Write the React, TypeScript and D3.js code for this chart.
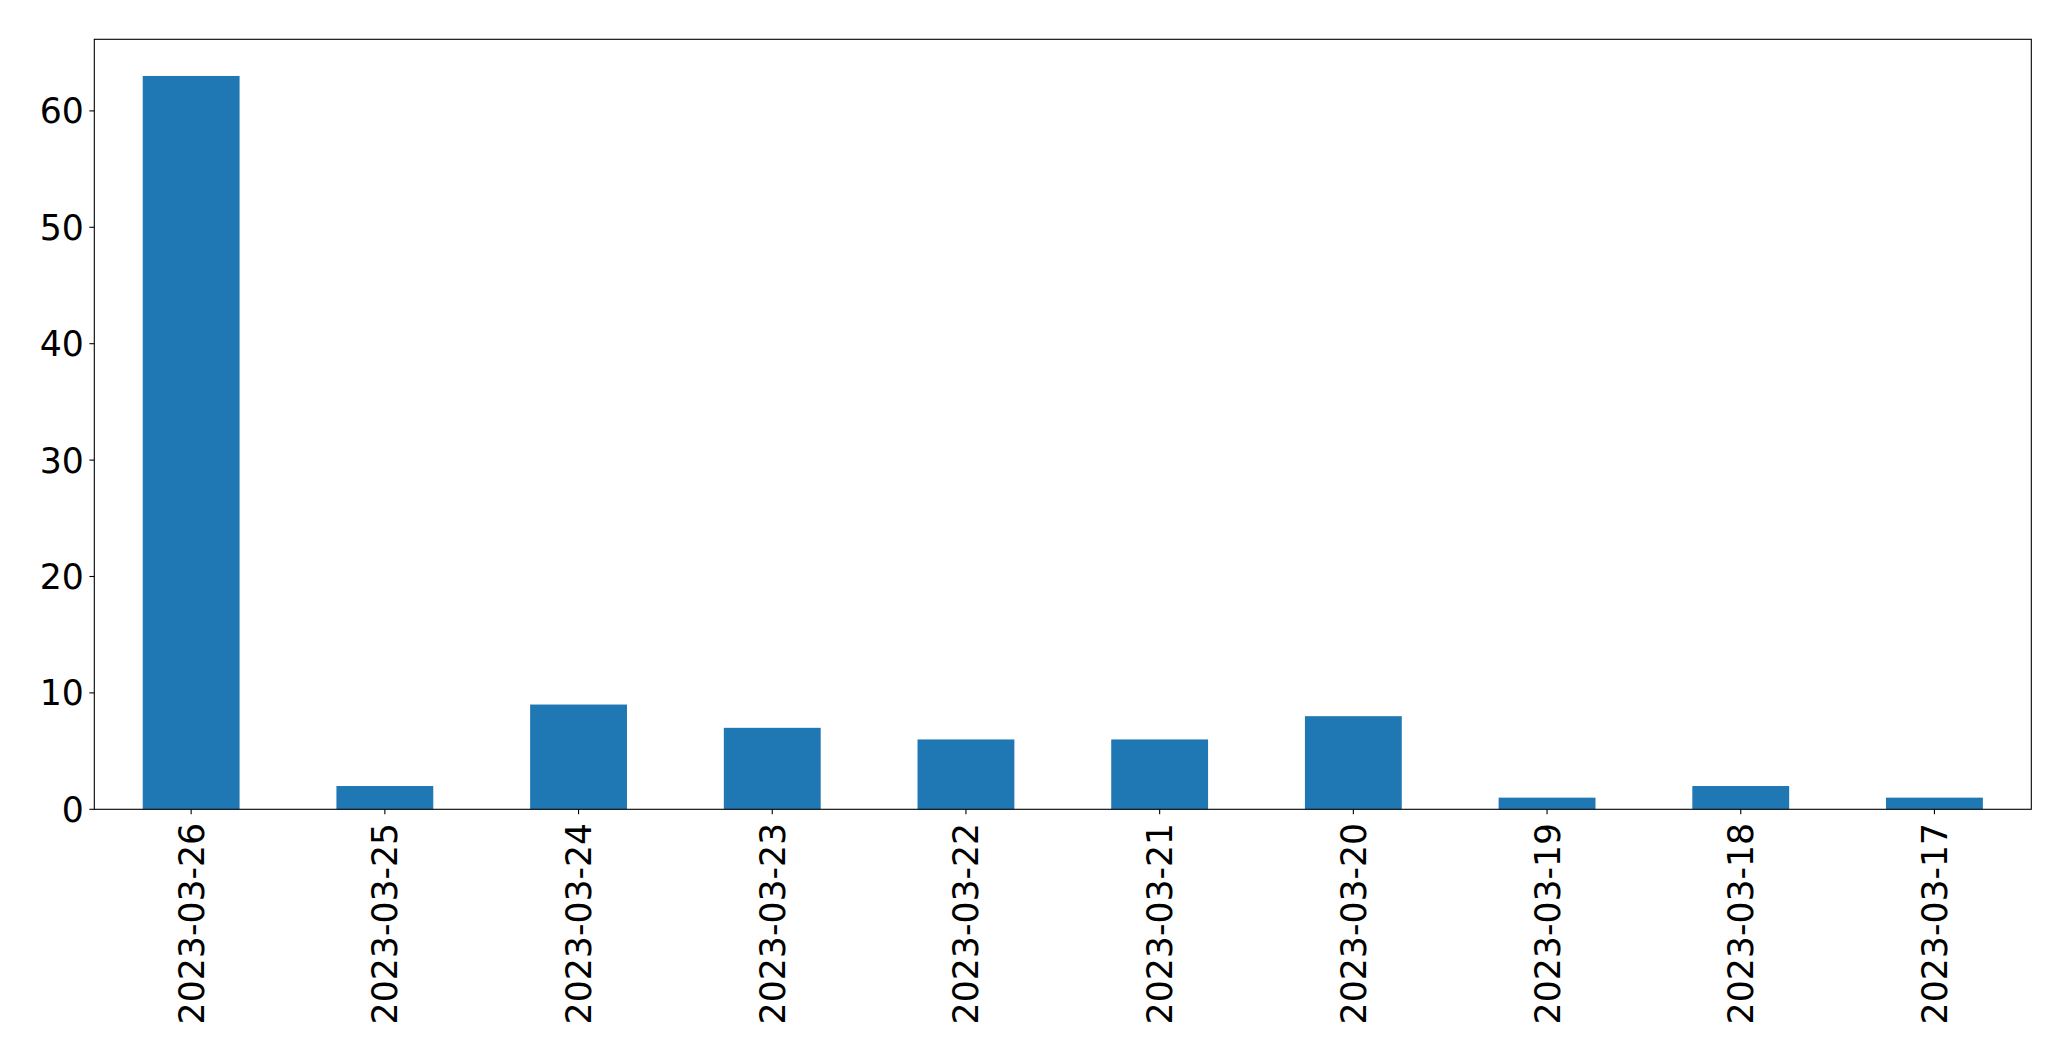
import React from "react";
import * as d3 from "d3";

const categories = ["2023-03-26","2023-03-25","2023-03-24","2023-03-23","2023-03-22","2023-03-21","2023-03-20","2023-03-19","2023-03-18","2023-03-17"];
const values = [63, 2, 9, 7, 6, 6, 8, 1, 2, 1];
const yTicks = [0, 10, 20, 30, 40, 50, 60];

const W = 2071, H = 1061;
const M = { left: 94.3, right: 2031.3, top: 39.3, bottom: 809.3 };
const FONT = "DejaVu Sans, sans-serif";
const FS = 34.7;

export default function App() {
  const x = d3.scaleBand<string>().domain(categories).range([M.left, M.right]).paddingInner(0.5).paddingOuter(0.25);
  const y = d3.scaleLinear().domain([0, 63 * 1.05]).range([M.bottom, M.top]);
  return (
    <svg width={W} height={H} style={{ position: "absolute", left: 0, top: 0 }}>
      <rect width={W} height={H} fill="#fff" />
      {categories.map((c, i) => (
        <rect key={c} x={x(c)} y={y(values[i])} width={x.bandwidth()} height={y(0) - y(values[i])} fill="#1f77b4" />
      ))}
      <rect x={M.left} y={M.top} width={M.right - M.left} height={M.bottom - M.top} fill="none" stroke="#000" strokeWidth={1.1} />
      {yTicks.map(t => (
        <g key={t}>
          <line x1={M.left - 4.9} x2={M.left} y1={y(t)} y2={y(t)} stroke="#000" strokeWidth={1.1} />
          <text x={M.left - 10.5} y={y(t)} dy="0.36em" textAnchor="end" fontFamily={FONT} fontSize={FS}>{t}</text>
        </g>
      ))}
      {categories.map(c => {
        const cx = (x(c) as number) + x.bandwidth() / 2;
        return (
          <g key={c}>
            <line x1={cx} x2={cx} y1={M.bottom} y2={M.bottom + 4.9} stroke="#000" strokeWidth={1.1} />
            <text transform={`translate(${cx},${M.bottom + 13.5}) rotate(-90)`} textAnchor="end" dy="0.36em" fontFamily={FONT} fontSize={FS}>{c}</text>
          </g>
        );
      })}
    </svg>
  );
}
